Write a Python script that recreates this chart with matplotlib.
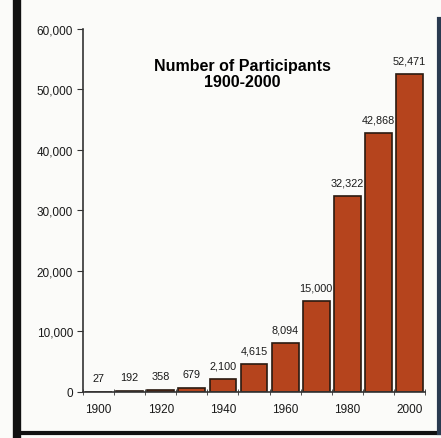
import numpy as np
import matplotlib.pyplot as plt
from matplotlib.lines import Line2D

plt.rcParams['font.family'] = ['Liberation Sans', 'DejaVu Sans']

# Number of participants by decade
years = [1900, 1910, 1920, 1930, 1940, 1950, 1960, 1970, 1980, 1990, 2000]
participants = [27, 192, 358, 679, 2100, 4615, 8094, 15000, 32322, 42868, 52471]
yticks = [0, 10000, 20000, 30000, 40000, 50000, 60000]

fig = plt.figure(figsize=(4.41, 4.39), dpi=100)
fig.patch.set_facecolor('#fbfbf9')
ax = fig.add_axes([0.188, 0.105, 0.776, 0.827])
ax.set_facecolor('none')

x = np.arange(len(years))
bars = ax.bar(x, participants, width=0.86, color='#b5441d', edgecolor='#2a1a10', linewidth=1.2)

for xi, v in zip(x, participants):
    ax.text(xi, v + 1400, "{:,}".format(v), ha='center', va='bottom', fontsize=7.8, color='#1a1a1a')

ax.set_xlim(-0.5, len(years) - 0.5)
ax.set_ylim(0, 60000)
ax.set_yticks(yticks)
ax.set_yticklabels(["{:,}".format(t) for t in yticks], fontsize=8.5, color='#1a1a1a')
ax.set_xticks(x[::2])
ax.set_xticklabels([str(y) for y in years[::2]], fontsize=8.5, color='#1a1a1a')
ax.set_xticks(np.arange(-0.5, len(years)), minor=True)
ax.tick_params(axis='x', which='major', length=0, pad=8)
ax.tick_params(axis='x', which='minor', length=5, direction='inout', color='#333333')
ax.tick_params(axis='y', length=4, color='#333333', pad=3)

for s in ['top', 'right']:
    ax.spines[s].set_visible(False)
for s in ['left', 'bottom']:
    ax.spines[s].set_color('#333333')
    ax.spines[s].set_linewidth(1.2)

ax.text(0.465, 0.877, "Number of Participants\n1900-2000", transform=ax.transAxes,
        ha='center', va='center', fontsize=11.5, fontweight='bold', linespacing=1.05)

# scanned page frame
fig.add_artist(Line2D([17/441, 17/441], [4/439, 1 - 5/439], color='#111111', linewidth=6, transform=fig.transFigure))
fig.add_artist(Line2D([20/441, 1], [5/439, 5/439], color='#111111', linewidth=3, transform=fig.transFigure))
fig.add_artist(Line2D([439/441, 439/441], [5/439, 1 - 20/439], color='#2a3a50', linewidth=3, transform=fig.transFigure))

plt.savefig("out.png", dpi=100, facecolor=fig.get_facecolor())
